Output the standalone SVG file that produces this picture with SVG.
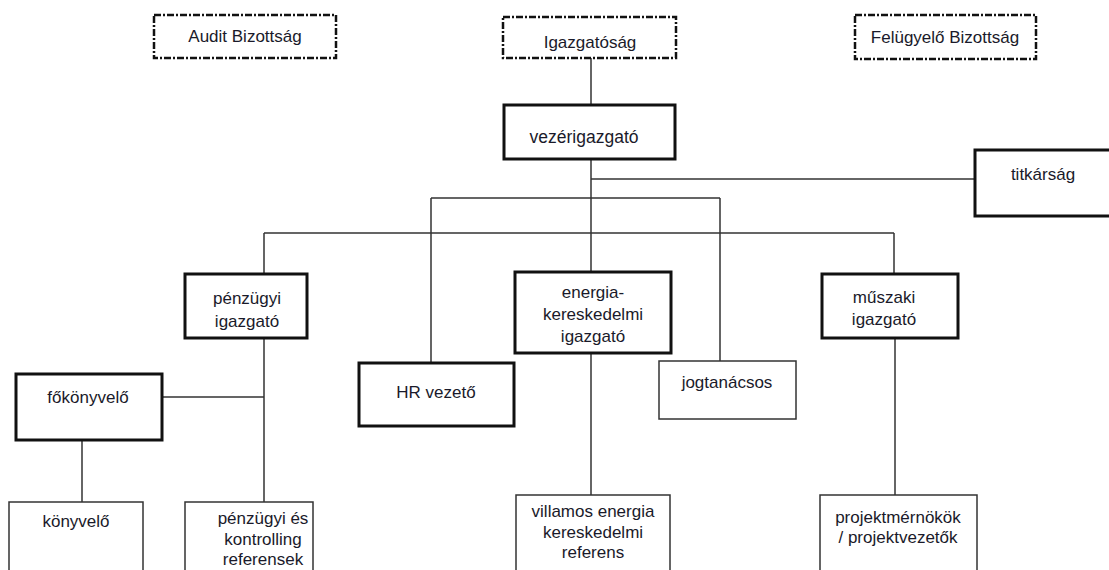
<svg xmlns="http://www.w3.org/2000/svg" width="1109" height="570" viewBox="0 0 1109 570">
<style>
text{font-family:"Liberation Sans",Arial,sans-serif;font-size:17px;fill:#1a1a2a;text-anchor:middle}
.dash{fill:#fff;stroke:#111;stroke-width:2.5;stroke-dasharray:7 2 2 2}
.thick{fill:#fff;stroke:#111;stroke-width:3}
.thin{fill:#fff;stroke:#333;stroke-width:1.5}
.ln{stroke:#333;stroke-width:1.5;fill:none}
</style>
<rect width="1109" height="570" fill="#fff"/>
<g id="connectors">
<path class="ln" d="M591 58V105"/>
<path class="ln" d="M591 159V233"/>
<path class="ln" d="M591 179H975"/>
<path class="ln" d="M431 198H720M431 198V363M720 198V361"/>
<path class="ln" d="M264 233H894M264 233V274M591 233V272M894 233V274"/>
<path class="ln" d="M264 338V502M162 397H264"/>
<path class="ln" d="M82 440V502"/>
<path class="ln" d="M591 353V495"/>
<path class="ln" d="M895 338V495"/>
</g>
<g id="audit"><rect class="dash" x="154" y="15" width="182" height="43"/><text x="245" y="42">Audit Bizottság</text></g>
<g id="igazgatosag"><rect class="dash" x="503" y="17" width="173" height="41"/><text x="590" y="48">Igazgatóság</text></g>
<g id="felugyelo"><rect class="dash" x="855" y="15" width="181" height="44"/><text x="945" y="43">Felügyelő Bizottság</text></g>
<g id="vezerigazgato"><rect class="thick" x="504" y="105" width="171" height="54"/><text x="584" y="143" style="font-size:17.5px">vezérigazgató</text></g>
<g id="titkarsag"><rect class="thick" x="975" y="150" width="138" height="66"/><text x="1043" y="180">titkárság</text></g>
<g id="penzugyi"><rect class="thick" x="185" y="274" width="122" height="64"/><text x="247" y="304">pénzügyi</text><text x="247" y="327">igazgató</text></g>
<g id="energia"><rect class="thick" x="515" y="272" width="156" height="81"/><text x="593" y="298">energia-</text><text x="593" y="320">kereskedelmi</text><text x="593" y="342">igazgató</text></g>
<g id="muszaki"><rect class="thick" x="822" y="274" width="136" height="64"/><text x="884" y="303">műszaki</text><text x="884" y="325">igazgató</text></g>
<g id="fokonyvelo"><rect class="thick" x="16" y="374" width="146" height="66"/><text x="88" y="403">főkönyvelő</text></g>
<g id="hr"><rect class="thick" x="359" y="363" width="155" height="63"/><text x="436" y="398">HR vezető</text></g>
<g id="jogtanacsos"><rect class="thin" x="659" y="361" width="137" height="58"/><text x="727" y="388">jogtanácsos</text></g>
<g id="konyvelo"><rect class="thin" x="9" y="502" width="134" height="80"/><text x="76" y="527">könyvelő</text></g>
<g id="referensek"><rect class="thin" x="185" y="502" width="128" height="80"/><text x="263" y="524">pénzügyi és</text><text x="263" y="545">kontrolling</text><text x="263" y="565">referensek</text></g>
<g id="villamos"><rect class="thin" x="516" y="495" width="154" height="90"/><text x="593" y="517">villamos energia</text><text x="593" y="538">kereskedelmi</text><text x="593" y="558">referens</text></g>
<g id="projekt"><rect class="thin" x="820" y="495" width="157" height="90"/><text x="898" y="523">projektmérnökök</text><text x="898" y="543">/ projektvezetők</text></g>
</svg>
